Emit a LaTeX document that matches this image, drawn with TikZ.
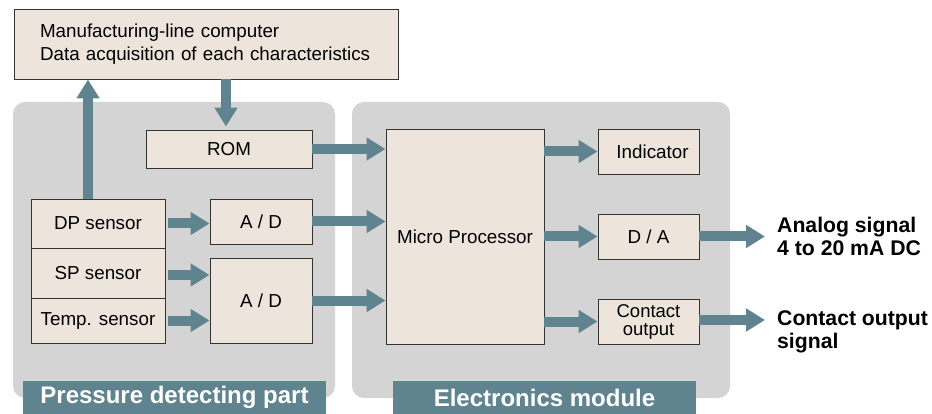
\documentclass[tikz,border=0pt]{standalone}
\usepackage{fontspec}
\setmainfont{Liberation Sans}
\usetikzlibrary{arrows.meta}
\definecolor{boxfill}{HTML}{EDE4DB}
\definecolor{panelgray}{HTML}{D4D4D4}
\definecolor{teal}{HTML}{5F8490}
\definecolor{edge}{HTML}{333333}
\begin{document}
\begin{tikzpicture}[x=1pt,y=-1pt,
  box/.style={draw=edge,line width=0.9pt,fill=boxfill,inner sep=0pt,font=\fontsize{18.8}{21}\selectfont,align=center},
  panel/.style={fill=panelgray,rounded corners=12pt},
  tag/.style={fill=teal,text=white,inner sep=0pt,font=\fontsize{24}{26}\bfseries\selectfont},
  flow/.style={teal,line width=10pt,-{Triangle[width=22pt,length=19pt]}},
  outtext/.style={anchor=west,align=left,inner sep=0pt,font=\fontsize{21.2}{23}\bfseries\selectfont}]
\useasboundingbox (0,0) rectangle (932,414);
% panels
\fill[panel] (13,102) rectangle (335,398);
\fill[panel] (352,102) rectangle (730,398);
\node[tag,minimum width=303pt,minimum height=33pt] (ptag) at (174.5,397.5) {\raisebox{-2pt}{Pressure detecting part}};
\node[tag,minimum width=303pt,minimum height=33pt] (etag) at (544.5,397.5) {\raisebox{-2pt}{Electronics module}};
% boxes
\node[box,minimum width=384pt,minimum height=70pt,text width=340pt,align=left,font=\fontsize{18.8}{23}\selectfont] (top) at (206,44)
  {\hspace*{4pt}Manufacturing-line computer\\\hspace*{4pt}Data acquisition of each characteristics};
\node[box,minimum width=166pt,minimum height=38pt] (rom) at (229,149) {ROM};
\node[box,minimum width=134pt,minimum height=49pt] (dp) at (98,223.5) {DP sensor};
\node[box,minimum width=134pt,minimum height=50pt] (sp) at (98,273) {SP sensor};
\node[box,minimum width=134pt,minimum height=45pt] (temp) at (98,320.5) {Temp. sensor};
\node[box,minimum width=102pt,minimum height=45pt] (ad1) at (261,221.5) {A / D};
\node[box,minimum width=102pt,minimum height=85pt] (ad2) at (261,300.5) {A / D};
\node[box,minimum width=158pt,minimum height=215pt] (mp) at (465,236.5) {Micro Processor};
\node[box,minimum width=101pt,minimum height=45pt] (ind) at (648.5,151.5) {\hspace*{8pt}Indicator};
\node[box,minimum width=101pt,minimum height=45pt] (da) at (648.5,236.5) {D / A};
\node[box,minimum width=101pt,minimum height=45pt,font=\fontsize{18.5}{18}\selectfont] (co) at (648.5,321.5) {Contact\\output};
% output texts
\node[outtext] (aout) at (777,236.5) {Analog signal\\4 to 20 mA DC};
\node[outtext] (cout) at (777,331.5) {Contact output\\signal};
\coordinate (aend) at (765,236.5);
\coordinate (cend) at (765,320);
\coordinate (spout) at ([xshift=3pt,yshift=-2pt]sp.east);
% arrows
\draw[flow] (dp.north -| 88,0) -- (top.south -| 88,0);
\draw[flow] (top.south -| 226,0) -- ([yshift=3pt]rom.north -| 226,0);
\draw[flow] (rom.east) -- (mp.west |- rom.east);
\draw[flow] ([xshift=3pt]dp.east) -- (ad1.west |- dp.east);
\draw[flow] (spout) -- (ad2.west |- spout);
\draw[flow] ([xshift=3pt]temp.east) -- (ad2.west |- temp.east);
\draw[flow] (ad1.east) -- (mp.west |- ad1.east);
\draw[flow] (ad2.east) -- (mp.west |- ad2.east);
\draw[flow] (mp.east |- ind.west) -- (ind.west);
\draw[flow] (mp.east |- da.west) -- (da.west);
\draw[flow] (mp.east |- co.west) -- (co.west);
\draw[flow] (da.east) -- (aend);
\draw[flow] (co.east |- cend) -- (cend);
\end{tikzpicture}
\end{document}
